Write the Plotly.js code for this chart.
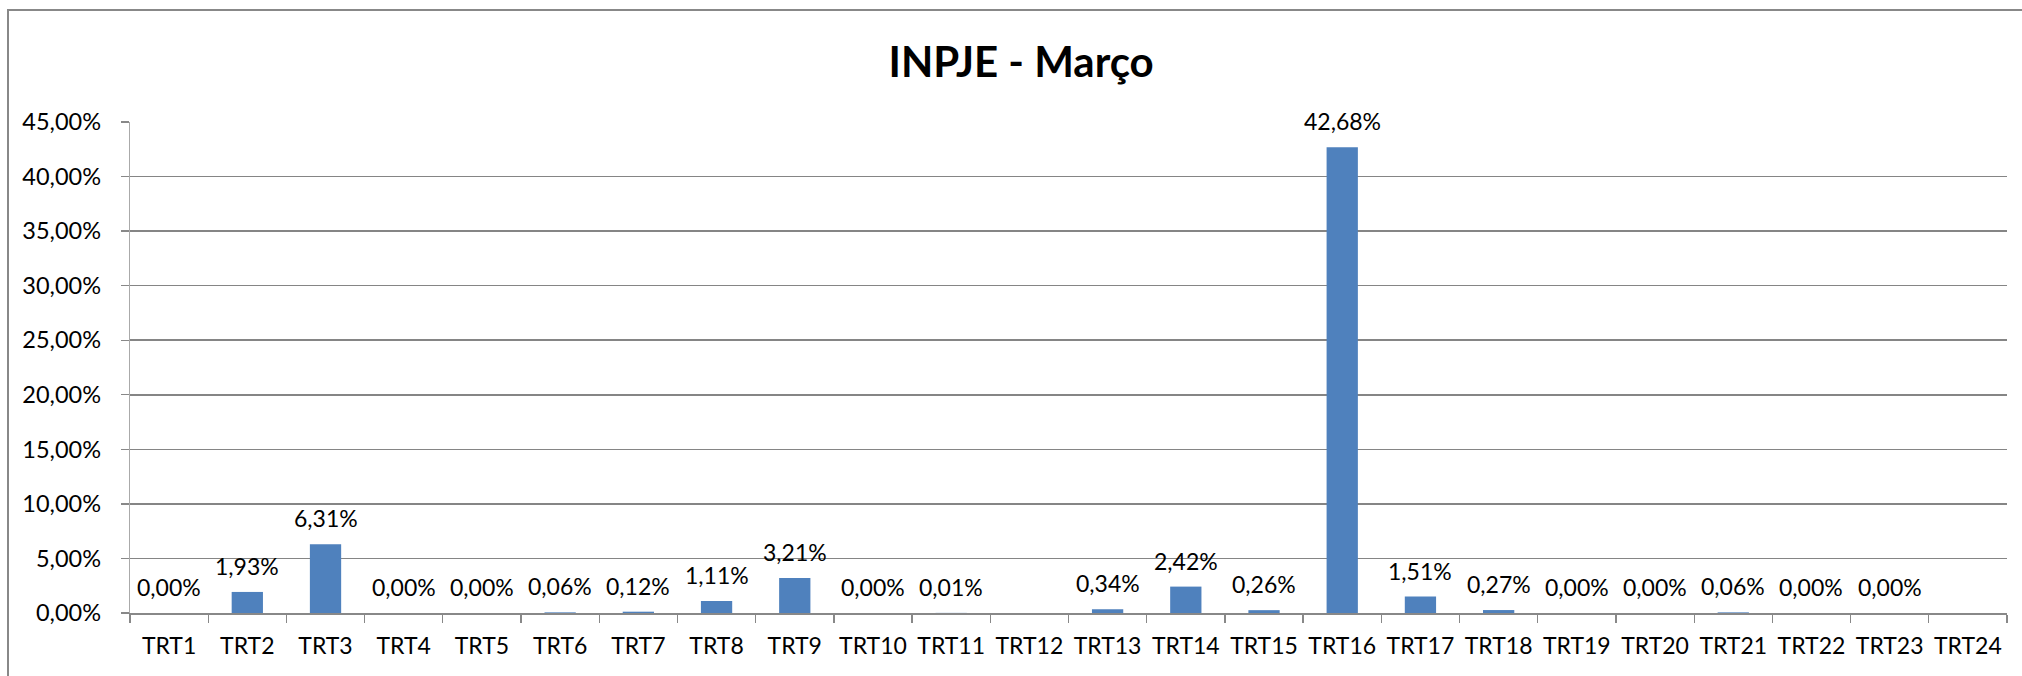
<!DOCTYPE html>
<html>
<head>
<meta charset="utf-8">
<script src="https://cdn.plot.ly/plotly-3.0.1.min.js"></script>
<style>
html,body{margin:0;padding:0;background:#fff;}
#chart{width:2022px;height:676px;}
</style>
</head>
<body>
<div id="chart"></div>
<script>
var categories = ["TRT1","TRT2","TRT3","TRT4","TRT5","TRT6","TRT7","TRT8","TRT9","TRT10","TRT11","TRT12","TRT13","TRT14","TRT15","TRT16","TRT17","TRT18","TRT19","TRT20","TRT21","TRT22","TRT23","TRT24"];
var values = [0.00, 1.93, 6.31, 0.00, 0.00, 0.06, 0.12, 1.11, 3.21, 0.00, 0.01, null, 0.34, 2.42, 0.26, 42.68, 1.51, 0.27, 0.00, 0.00, 0.06, 0.00, 0.00, null];
var titleText = "INPJE - Março";

function fmt(v){ return v.toFixed(2).replace('.', ',') + '%'; }

var annotations = [];
categories.forEach(function(c, i){
  if (values[i] === null) return;
  annotations.push({
    x: c, y: values[i], xref: 'x', yref: 'y',
    text: fmt(values[i]), showarrow: false,
    yanchor: 'bottom', xanchor: 'center', yshift: 10,
    font: {family: 'Lato, sans-serif', size: 23, color: '#000'}
  });
});

var trace = {
  type: 'bar',
  x: categories,
  y: values,
  marker: {color: '#4f81bd'},
  hoverinfo: 'x+y'
};

var layout = {
  width: 2022, height: 676,
  separators: ',.',
  paper_bgcolor: '#fff', plot_bgcolor: '#fff',
  margin: {l: 130, r: 15, t: 122, b: 63, pad: 0},
  bargap: 0.6,
  showlegend: false,
  font: {family: 'Lato, sans-serif', color: '#000'},
  title: {
    text: '<b>' + titleText + '</b>',
    font: {family: 'Lato, sans-serif', size: 42, color: '#000'},
    x: 0.505, xref: 'container', xanchor: 'center',
    y: 1 - 62/676, yref: 'container', yanchor: 'middle'
  },
  xaxis: {
    type: 'category',
    tickson: 'boundaries',
    tickangle: 0,
    ticks: 'outside', ticklen: 8, tickwidth: 1.3, tickcolor: '#888',
    showline: true, linecolor: '#888', linewidth: 1.5,
    showgrid: false, zeroline: false,
    ticklabelstandoff: 12,
    tickfont: {family: 'Lato, sans-serif', size: 23, color: '#000'},
    fixedrange: true
  },
  yaxis: {
    range: [0, 45], dtick: 5, tick0: 0,
    tickformat: '.2f', ticksuffix: '%',
    ticks: 'outside', ticklen: 8, tickwidth: 1.3, tickcolor: '#888',
    showline: true, linecolor: '#aaa', linewidth: 1.3,
    showgrid: true, gridcolor: '#858585', gridwidth: 1.5,
    zeroline: false,
    ticklabelstandoff: 15,
    tickfont: {family: 'Lato, sans-serif', size: 23.5, color: '#000'},
    fixedrange: true
  },
  annotations: annotations,
  shapes: [{
    type: 'rect', xref: 'paper', yref: 'paper',
    x0: (8 - 130) / 1877, x1: (2030 - 130) / 1877,
    y0: (613 - 690) / 491, y1: (613 - 10) / 491,
    line: {color: '#888', width: 2}, fillcolor: 'rgba(0,0,0,0)', layer: 'below'
  }]
};

Plotly.newPlot('chart', [trace], layout, {displayModeBar: false, staticPlot: true});
</script>
</body>
</html>
